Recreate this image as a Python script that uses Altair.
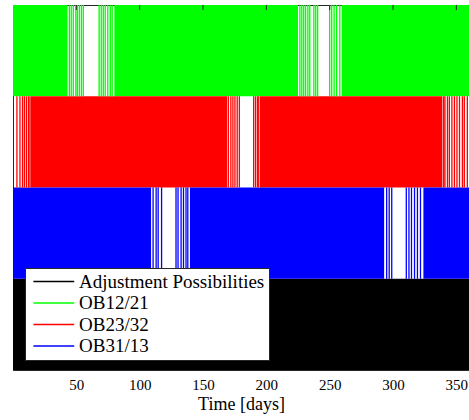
import altair as alt
import pandas as pd

# ---- data ----
series_names = ["Adjustment Possibilities", "OB12/21", "OB23/32", "OB31/13"]
series_colors = ["#000000", "#00ff00", "#ff0000", "#0000ff"]
band_bottom = [0, 3, 2, 1]  # y-band index of each series

x_ticks = [50, 100, 150, 200, 250, 300, 350]

# solid stretches (days)
adj_block_start = [0]
adj_block_end = [360]
g_block_start = [0, 80, 259.5]
g_block_end = [43, 225, 360]
r_block_start = [14, 195]
r_block_end = [169, 339]
b_block_start = [0, 139.7, 324]
b_block_end = [109, 293, 360]

# isolated adjustment instants (days)
adj_lines = []
g_lines = [44.5, 46, 47.6, 49.6, 50.8, 52.4, 54, 55.5,
           68, 69.7, 71.3, 72.8, 74.8, 76.8, 78.3,
           226.5, 228, 229.5, 231, 232.8, 234.3, 237.5, 239, 240.5,
           250, 251.6, 253.5, 255.5, 258]
r_lines = [3.1, 5.5, 7.5, 9, 10.6, 12.2, 13.4,
           170, 172, 173.6, 175.2, 177, 178.7,
           190, 191.5, 193, 194,
           340, 341, 343, 344.5, 346.5, 348.5, 350.5, 352.5, 354.8, 356.3, 358.7]
b_lines = [110.6, 113, 114.6, 117.3,
           128.7, 130.3, 132.7, 134.6, 136.6, 138,
           295, 297, 299,
           310.5, 312.6, 314.6, 317, 319.3, 321.7]

block_starts = [adj_block_start, g_block_start, r_block_start, b_block_start]
block_ends = [adj_block_end, g_block_end, r_block_end, b_block_end]
line_sets = [adj_lines, g_lines, r_lines, b_lines]

rect_rows, rule_rows = [], []
for name, y0, starts, ends, lines in zip(series_names, band_bottom, block_starts, block_ends, line_sets):
    for s, e in zip(starts, ends):
        rect_rows.append({"band": name, "x": s, "x2": e, "y": y0, "y2": y0 + 1})
    for d in lines:
        rule_rows.append({"series": name, "x": d, "y": y0, "y2": y0 + 1})

rect_df = pd.DataFrame(rect_rows)
rule_df = pd.DataFrame(rule_rows)
tick_df = pd.DataFrame({"x": x_ticks})

FONT = "Liberation Serif"
xscale = alt.Scale(domain=[0, 360], nice=False, zero=False)
yscale = alt.Scale(domain=[0, 4], nice=False)

xaxis = alt.Axis(values=x_ticks, title="Time [days]", ticks=False, grid=False,
                 domainColor="#262626", labelFont=FONT, labelFontSize=15,
                 labelColor="black", labelPadding=7, titleFont=FONT,
                 titleFontSize=18, titleFontWeight="normal", titleColor="black",
                 titlePadding=3)

rects = alt.Chart(rect_df).mark_rect().encode(
    x=alt.X("x:Q", scale=xscale, axis=xaxis),
    x2="x2",
    y=alt.Y("y:Q", scale=yscale, axis=None),
    y2="y2",
    fill=alt.Fill("band:N", scale=alt.Scale(domain=series_names, range=series_colors), legend=None),
)

rules = alt.Chart(rule_df).mark_rule(strokeWidth=1.3).encode(
    x=alt.X("x:Q", scale=xscale),
    y=alt.Y("y:Q", scale=yscale),
    y2="y2",
    stroke=alt.Stroke("series:N", scale=alt.Scale(domain=series_names, range=series_colors),
                      legend=alt.Legend(
                          title=None, orient="none", legendX=12, legendY=263,
                          fillColor="white", strokeColor="#262626", padding=4,
                          symbolType="M-0.6,0H4.2", symbolSize=289, symbolStrokeWidth=1.5,
                          symbolFillColor="transparent",
                          labelFont=FONT, labelFontSize=19, labelColor="black",
                          labelOffset=31, labelLimit=400, rowPadding=1.5)),
)

topticks = alt.Chart(tick_df).mark_rule(color="#262626", strokeWidth=1).encode(
    x=alt.X("x:Q", scale=xscale),
    y=alt.value(0),
    y2=alt.value(5),
)

chart = alt.layer(rects, rules, topticks).resolve_scale(
    fill="independent", stroke="independent"
).properties(
    width=456, height=365,
    autosize=alt.AutoSizeParams(type="none"),
    padding={"left": 13, "top": 5, "right": 0, "bottom": 50},
).configure_view(stroke="#262626", strokeWidth=1).configure_axis(
    labelFont=FONT, titleFont=FONT, titleFontWeight="normal"
).configure_legend(labelFont=FONT)

chart.save("out.html", embed_options={"renderer": "svg", "actions": False})
